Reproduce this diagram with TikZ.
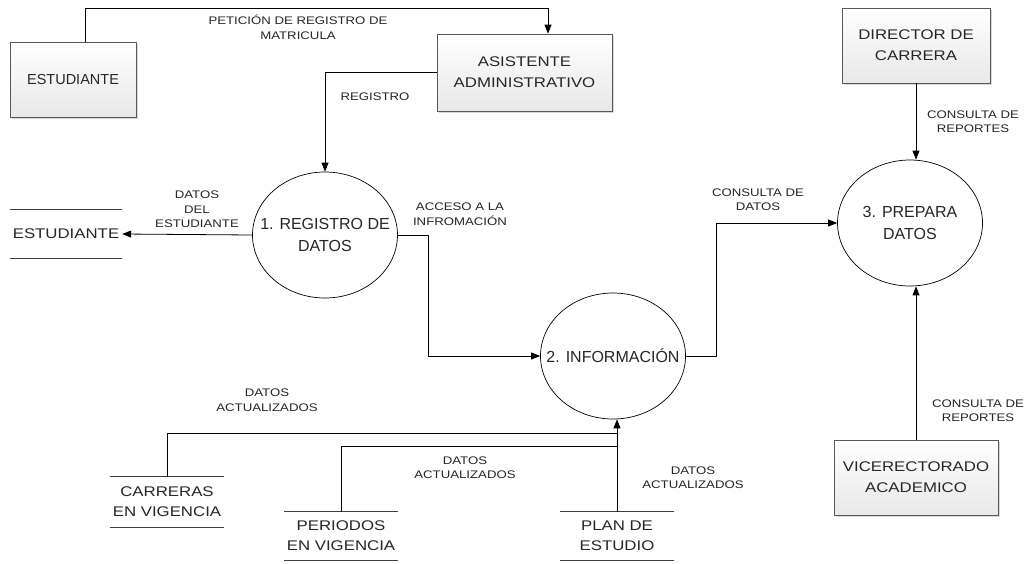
\documentclass[tikz,border=0pt]{standalone}
\usepackage{fontspec}
\setmainfont{Liberation Sans}
\newfontfamily\widefont[FakeStretch=1.2]{Liberation Sans}
\usetikzlibrary{arrows.meta,shadows,shapes.geometric}

\tikzset{
  entity/.style={draw=black!65, line width=0.7pt, top color=white, bottom color=black!9,
    drop shadow={shadow xshift=2pt, shadow yshift=-2pt, fill=black!30},
    font=\widefont\fontsize{14}{21}\selectfont, text=black!85, align=center, inner sep=0pt},
  proc/.style={ellipse, draw, line width=0.7pt, fill=white, minimum width=145pt, minimum height=126pt,
    inner sep=0pt},
  proctext/.style={font=\fontsize{16}{22.5}\selectfont, text=black!85, align=center, inner sep=0pt},
  store/.style={minimum width=113pt, inner sep=0pt, font=\widefont\fontsize{14}{20}\selectfont,
    text=black!85, align=center},
  lbl/.style={font=\widefont\fontsize{11}{14.5}\selectfont, text=black!85, align=center, inner sep=0pt},
  flow/.style={-{Triangle[length=9pt,width=7pt]}, line width=0.8pt},
  line/.style={line width=0.8pt},
  rule/.style={line width=0.8pt, black!75}
}

\begin{document}
\begin{tikzpicture}[x=1pt,y=-1pt]
\useasboundingbox[fill=white] (0,0) rectangle (1032,563);

% external entities
\node[entity, minimum width=126pt, minimum height=75pt, font=\fontsize{14.5}{21}\selectfont] (est) at (73,79.5) {ESTUDIANTE};
\node[entity, minimum width=175pt, minimum height=77pt] (asis) at (524.5,72.5) {ASISTENTE\\ADMINISTRATIVO};
\node[entity, minimum width=148pt, minimum height=75pt] (dir)  at (916,45.5)  {DIRECTOR DE\\CARRERA};
\node[entity, minimum width=164pt, minimum height=75pt] (vice) at (916,477.5) {VICERECTORADO\\ACADEMICO};

% processes: outline first, caption on top
\node[proc] (p1) at (325,235) {};
\node[proc] (p2) at (613,356) {};
\node[proc] (p3) at (910,223) {};
\node[proctext] (t1) at (p1) {1. REGISTRO DE\\DATOS};
\node[proctext] (t2) at (p2) {2. INFORMACIÓN};
\node[proctext] (t3) at (p3) {3. PREPARA\\DATOS};

% data stores
\node[store, minimum height=48pt, minimum width=112pt] (sEst) at (66,234) {ESTUDIANTE};
\node[store, minimum height=50pt] (sCar)  at (167,502) {CARRERAS\\EN VIGENCIA};
\node[store, minimum height=48pt] (sPer)  at (341,536) {PERIODOS\\EN VIGENCIA};
\node[store, minimum height=48pt] (sPlan) at (617,536) {PLAN DE\\ESTUDIO};
\foreach \s in {sEst,sCar,sPer,sPlan}{
  \draw[rule] (\s.north west) -- (\s.north east);
  \draw[rule] (\s.south west) -- (\s.south east);
}

% bend points
\coordinate (up)  at (85,8);
\coordinate (upR) at (548,8);
\coordinate (b1)  at (428,0);
\coordinate (b2)  at (716,0);
\coordinate (hc)  at (0,433);
\coordinate (hp)  at (0,446);

% flows
\draw[flow] (up |- est.north) -- (up) -- (upR) -- (upR |- asis.north);
\draw[flow] (asis.west) -| (p1.north);
\draw[flow] (p1.west) -- (sEst.east);
\draw[flow] (p1.east) -- (p1.east -| b1) |- (p2.west);
\draw[flow] (p2.east) -- (p2.east -| b2) |- (p3.west);
\draw[flow] (dir.south) -- (dir.south |- p3.north);
\draw[flow] (vice.north) -- (vice.north |- p3.south);
\draw[flow] (sPlan.north) -- (sPlan.north |- p2.south);
\draw[line] (sCar.north) -- (sCar.north |- hc) -- (sPlan.north |- hc);
\draw[line] (sPer.north) -- (sPer.north |- hp) -- (sPlan.north |- hp);

% flow labels
\node[lbl] (l1) at (298,27.5) {PETICIÓN DE REGISTRO DE\\MATRICULA};
\node[lbl] (l2) at (375,97)  {REGISTRO};
\node[lbl] (l3) at (197,209.5) {DATOS\\DEL\\ESTUDIANTE};
\node[lbl] (l4) at (460,214) {ACCESO A LA\\INFROMACIÓN};
\node[lbl] (l5) at (758,199.5) {CONSULTA DE\\DATOS};
\node[lbl] (l6) at (973,121.5) {CONSULTA DE\\REPORTES};
\node[lbl] (l7) at (978,410.5) {CONSULTA DE\\REPORTES};
\node[lbl] (l8) at (267,400) {DATOS\\ACTUALIZADOS};
\node[lbl] (l9) at (465,467.5) {DATOS\\ACTUALIZADOS};
\node[lbl] (l10) at (693,477.5) {DATOS\\ACTUALIZADOS};
\end{tikzpicture}
\end{document}
